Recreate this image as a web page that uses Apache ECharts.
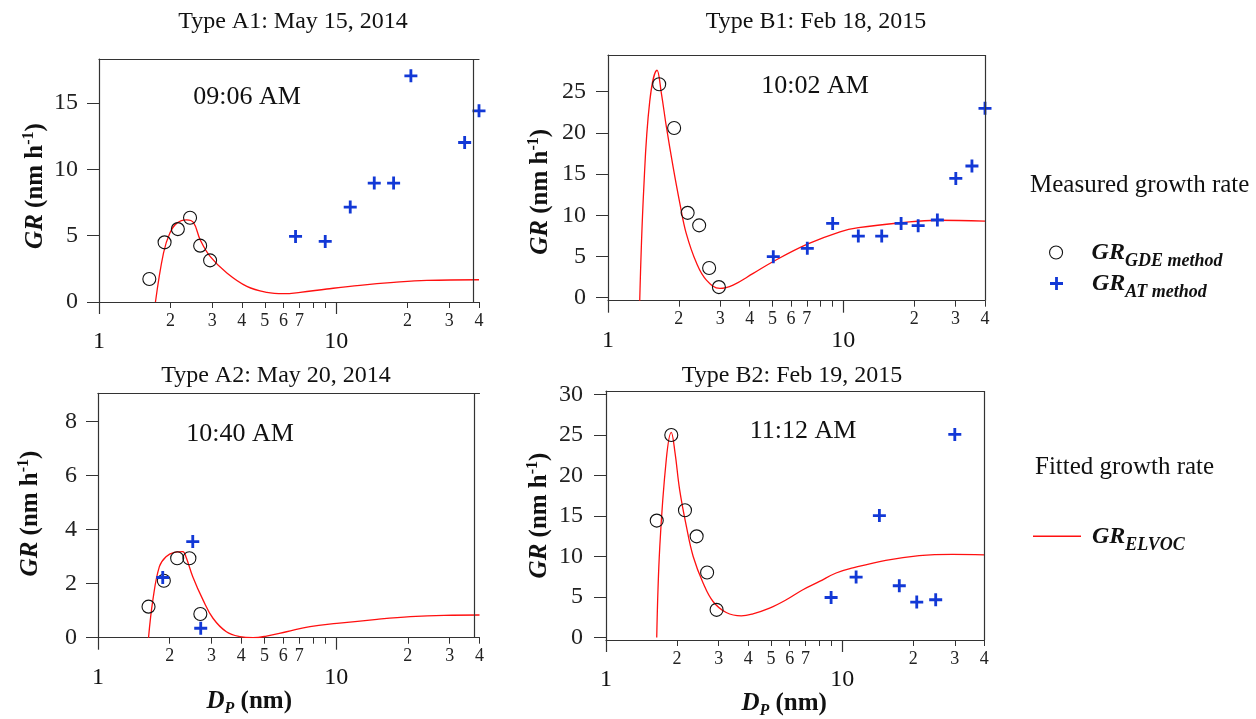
<!DOCTYPE html>
<html><head><meta charset="utf-8">
<script src="https://cdn.jsdelivr.net/npm/echarts@6/dist/echarts.min.js"></script>
<style>html,body{margin:0;padding:0;background:#fff}#c{width:1256px;height:719px}</style>
</head><body><div id="c"></div>
<script>
// ---------- data (Dp in nm, GR in nm h^-1) ----------
const a1Gde = [[1.63,1.73],[1.89,4.5],[2.15,5.5],[2.42,6.36],[2.67,4.25],[2.94,3.14]];
const a1At  = [[6.74,4.95],[8.99,4.57],[11.46,7.16],[14.47,8.97],[17.46,8.97],[20.65,17.06],[34.8,12.03],[40,14.42]];
const a1Fit = [[1.73,0],[1.87,3.69],[1.99,5.2],[2.13,5.95],[2.34,6.2],[2.5,6.0],[2.67,4.7],[2.94,3.44],[3.46,2.19],[4.2,1.18],[5.1,0.73],[6.0,0.63],[7.05,0.73],[9.13,0.98],[12.6,1.26],[17.5,1.48],[24.1,1.63],[40,1.68]];

const b1Gde = [[1.65,25.9],[1.91,20.6],[2.18,10.3],[2.44,8.78],[2.69,3.6],[2.96,1.29]];
const b1At  = [[5.04,4.98],[7.03,5.99],[9.01,9.02],[11.58,7.48],[14.56,7.48],[17.6,9.02],[20.8,8.74],[25.1,9.43],[30.06,14.48],[35.2,15.98],[40,22.98]];
const b1Fit = [[1.364,-0.36],[1.418,13.07],[1.504,23.8],[1.616,27.6],[1.686,24.8],[1.77,20.75],[1.89,15.9],[2.02,11.45],[2.15,7.8],[2.38,4.17],[2.62,2.14],[2.99,1.13],[3.4,1.54],[4.14,2.95],[5.04,4.4],[7.03,6.5],[9.68,8.0],[11.6,8.5],[17.6,9.1],[25.1,9.4],[40,9.3]];

const a2Gde = [[1.63,1.15],[1.89,2.11],[2.15,2.94],[2.42,2.94],[2.69,0.88]];
const a2At  = [[1.87,2.23],[2.5,3.56],[2.7,0.35]];
const a2Fit = [[1.63,0],[1.7,1.4],[1.81,2.63],[1.93,3.0],[2.09,3.16],[2.27,3.19],[2.34,3.0],[2.5,2.26],[2.76,1.4],[3.04,0.72],[3.46,0.22],[3.94,0.04],[4.48,0],[5.1,0.06],[6.19,0.22],[7.77,0.41],[10.07,0.53],[14.85,0.68],[20.5,0.78],[28.4,0.83],[40,0.84]];

const b2Gde = [[1.64,14.42],[1.89,24.97],[2.16,15.7],[2.42,12.48],[2.68,8.03],[2.94,3.42]];
const b2At  = [[8.98,4.94],[11.46,7.46],[14.38,15.04],[17.46,6.39],[20.7,4.37],[24.9,4.66],[30.0,25.05]];
const b2Fit = [[1.64,0],[1.69,11.25],[1.8,21.96],[1.89,25.3],[1.96,22.8],[2.05,18.25],[2.19,13.7],[2.34,10.0],[2.58,6.7],[2.84,4.45],[3.23,3.09],[3.74,2.68],[4.19,2.93],[4.93,3.63],[5.8,4.66],[6.82,5.9],[8.02,6.92],[9.43,7.96],[11.1,8.58],[15.3,9.52],[21.2,10.1],[29.3,10.26],[40,10.2]];

const panelTitles = ['Type A1: May 15, 2014','Type B1: Feb 18, 2015','Type A2: May 20, 2014','Type B2: Feb 19, 2015'];
const timeLabels = ['09:06 AM','10:02 AM','10:40 AM','11:12 AM'];
const xMinorTicks = [2,3,4,5,6,7,8,9,20,30,40];
const xMinorLabels = [2,3,4,5,6,7,20,30,40];
const xMajorTicks = [1,10];
const a1YTicks = [0,5,10,15];
const b1YTicks = [0,5,10,15,20,25];
const a2YTicks = [0,2,4,6,8];
const b2YTicks = [0,5,10,15,20,25,30];

// ---------- style ----------
const FONT = "'Liberation Serif','Times New Roman',serif";
const AX = '#333';
const TXT = '#111';
const BLUE = '#1238d6';
const RED = '#ff1010';
const CROSS = 'path://M4.7,0H7.3V4.7H12V7.3H7.3V12H4.7V7.3H0V4.7H4.7Z';

const panels = [
  {grid:{left:99,top:59,width:380,height:243}, yMin:0, yMax:18.33, yTicks:a1YTicks, right:38,
   gde:a1Gde, at:a1At, fit:a1Fit, nameGap:48, namePad:[0,11,0,0], labelMargin:21,
   title:{x:293,y:22}, time:{x:247,y:97}},
  {grid:{left:608,top:55,width:377,height:245.7}, yMin:-0.36, yMax:29.45, yTicks:b1YTicks, right:40,
   gde:b1Gde, at:b1At, fit:b1Fit, nameGap:52, namePad:[0,28,0,0], labelMargin:22,
   title:{x:816,y:22}, time:{x:815,y:86}},
  {grid:{left:98,top:393.3,width:381.5,height:244.4}, yMin:0, yMax:9.05, yTicks:a2YTicks, right:38,
   gde:a2Gde, at:a2At, fit:a2Fit, nameGap:52, namePad:[0,0,0,4], labelMargin:21,
   title:{x:276,y:376}, time:{x:240,y:434}, xName:{gap:49, pad:[0,79,0,0]}},
  {grid:{left:606,top:391,width:378.3,height:249}, yMin:-0.3, yMax:30.4, yTicks:b2YTicks, right:40,
   gde:b2Gde, at:b2At, fit:b2Fit, nameGap:51, namePad:[0,0,0,0], labelMargin:23,
   title:{x:792,y:376}, time:{x:803,y:431}, xName:{gap:49, pad:[0,22,0,0]}}
];

const grids = [], xAxes = [], yAxes = [], series = [], titles = [];
panels.forEach((p, i) => {
  grids.push(Object.assign({outerBoundsMode:'none', containLabel:false}, p.grid));
  const base = {gridIndex:i, type:'log', logBase:10, min:1, max:40, splitLine:{show:false}, minorTick:{show:false}, minorSplitLine:{show:false}};
  const main = Object.assign({}, base, {
    position:'bottom',
    axisLine:{show:true, onZero:false, lineStyle:{color:AX, width:1.2}},
    axisTick:{show:true, inside:false, length:6, customValues:xMinorTicks, lineStyle:{color:AX, width:1}},
    axisLabel:{show:true, customValues:xMinorLabels, margin:10, fontFamily:FONT, fontSize:18, color:'#222',
      formatter: v => String(v < 10 ? Math.round(v) : Math.round(v/10))}
  });
  if (p.xName) {
    Object.assign(main, {
      name:'{d|D}{p|P}{u| (nm)}', nameLocation:'middle', nameGap:p.xName.gap, nameMoveOverlap:false,
      nameTextStyle:{padding:p.xName.pad, rich:{
        d:{fontFamily:FONT, fontSize:25, fontWeight:'bold', fontStyle:'italic', color:TXT, lineHeight:30},
        p:{fontFamily:FONT, fontSize:16, fontWeight:'bold', fontStyle:'italic', color:TXT, lineHeight:18, verticalAlign:'bottom'},
        u:{fontFamily:FONT, fontSize:25, fontWeight:'bold', color:TXT, lineHeight:30}
      }}
    });
  }
  xAxes.push(main);
  xAxes.push(Object.assign({}, base, {
    position:'bottom',
    axisLine:{show:false, onZero:false},
    axisTick:{show:true, length:12, customValues:xMajorTicks, lineStyle:{color:AX, width:1.2}},
    axisLabel:{show:true, customValues:xMajorTicks, margin:28, fontFamily:FONT, fontSize:24, color:TXT,
      formatter: v => String(Math.round(v))}
  }));
  xAxes.push(Object.assign({}, base, {
    position:'top',
    axisLine:{show:true, onZero:false, lineStyle:{color:AX, width:1.2}},
    axisTick:{show:false}, axisLabel:{show:false}
  }));
  yAxes.push({
    gridIndex:i, type:'value', min:p.yMin, max:p.yMax, position:'left',
    splitLine:{show:false},
    axisLine:{show:true, onZero:false, lineStyle:{color:AX, width:1.2}},
    axisTick:{show:true, length:12, customValues:p.yTicks, lineStyle:{color:AX, width:1}},
    axisLabel:{show:true, customValues:p.yTicks, margin:p.labelMargin, fontFamily:FONT, fontSize:24, color:'#222'},
    name:'{gr|GR}{u| (nm h}{sup|-1}{u|)}', nameLocation:'middle', nameGap:p.nameGap, nameRotate:90, nameMoveOverlap:false,
    nameTextStyle:{padding:p.namePad, rich:{
      gr:{fontFamily:FONT, fontSize:25, fontWeight:'bold', fontStyle:'italic', color:TXT, lineHeight:30},
      u:{fontFamily:FONT, fontSize:25, fontWeight:'bold', color:TXT, lineHeight:30},
      sup:{fontFamily:FONT, fontSize:16, fontWeight:'bold', color:TXT, lineHeight:16, verticalAlign:'top'}
    }}
  });
  const xi = i*3;
  series.push({
    name:'ELVOC', type:'line', xAxisIndex:xi, yAxisIndex:i, data:p.fit, smooth:0.4,
    showSymbol:false, symbol:'none', lineStyle:{color:RED, width:1.3}, itemStyle:{color:RED}, silent:true, z:2,
    markLine:{silent:true, symbol:['none','none'], label:{show:false}, lineStyle:{color:AX, width:1.2, type:'solid'},
      emphasis:{disabled:true}, data:[{xAxis:p.right}]}
  });
  series.push({
    name:'GDE', type:'scatter', xAxisIndex:xi, yAxisIndex:i, data:p.gde, symbol:'circle', symbolSize:13,
    itemStyle:{color:'rgba(0,0,0,0)', borderColor:'#111', borderWidth:1.1, opacity:1}, silent:true, z:3
  });
  series.push({
    name:'AT', type:'scatter', xAxisIndex:xi, yAxisIndex:i, data:p.at, symbol:CROSS, symbolSize:13,
    itemStyle:{color:BLUE, opacity:1}, silent:true, z:4
  });
  titles.push({text:panelTitles[i], left:p.title.x, top:p.title.y-12, textAlign:'center', padding:0,
    textStyle:{fontFamily:FONT, fontSize:24, fontWeight:'normal', color:TXT, lineHeight:24}});
  titles.push({text:timeLabels[i], left:p.time.x, top:p.time.y-13, textAlign:'center', padding:0,
    textStyle:{fontFamily:FONT, fontSize:26, fontWeight:'normal', color:TXT, lineHeight:26}});
});
titles.push({text:'Measured growth rate', left:1030, top:172, padding:0,
  textStyle:{fontFamily:FONT, fontSize:25, fontWeight:'normal', color:TXT, lineHeight:26}});
titles.push({text:'Fitted growth rate', left:1035, top:454, padding:0,
  textStyle:{fontFamily:FONT, fontSize:25, fontWeight:'normal', color:TXT, lineHeight:26}});

const legendNames = {GDE:'GDE method', AT:'AT method', ELVOC:'ELVOC'};
function legend(name, icon, style, left, top, w, h, pad) {
  return {show:true, selectedMode:false, orient:'vertical', left:left, top:top, padding:0,
    itemWidth:w, itemHeight:h, data:[{name:name, icon:icon, itemStyle:style}],
    formatter: n => '{gr|GR}{sub|' + legendNames[n] + '}',
    textStyle:{rich:{
      gr:{fontFamily:FONT, fontSize:24, fontWeight:'bold', fontStyle:'italic', color:TXT, lineHeight:36, verticalAlign:'middle', padding:[0,0,0,pad]},
      sub:{fontFamily:FONT, fontSize:18, fontWeight:'bold', fontStyle:'italic', color:TXT, lineHeight:20, verticalAlign:'bottom'}
    }}};
}

const chart = echarts.init(document.getElementById('c'), null, {renderer:'canvas'});
chart.setOption({
  animation:false,
  backgroundColor:'#fff',
  tooltip:{show:false},
  title:titles,
  grid:grids,
  xAxis:xAxes,
  yAxis:yAxes,
  legend:[
    legend('GDE','circle',{color:'rgba(0,0,0,0)', borderColor:'#111', borderWidth:1.1}, 1049, 240.5, 13, 13, 24),
    legend('AT',CROSS,{color:BLUE}, 1050, 271.5, 13, 13, 24),
    legend('ELVOC','rect',{color:RED}, 1033, 524.3, 48, 1.5, 6)
  ],
  series:series
});
</script></body></html>
